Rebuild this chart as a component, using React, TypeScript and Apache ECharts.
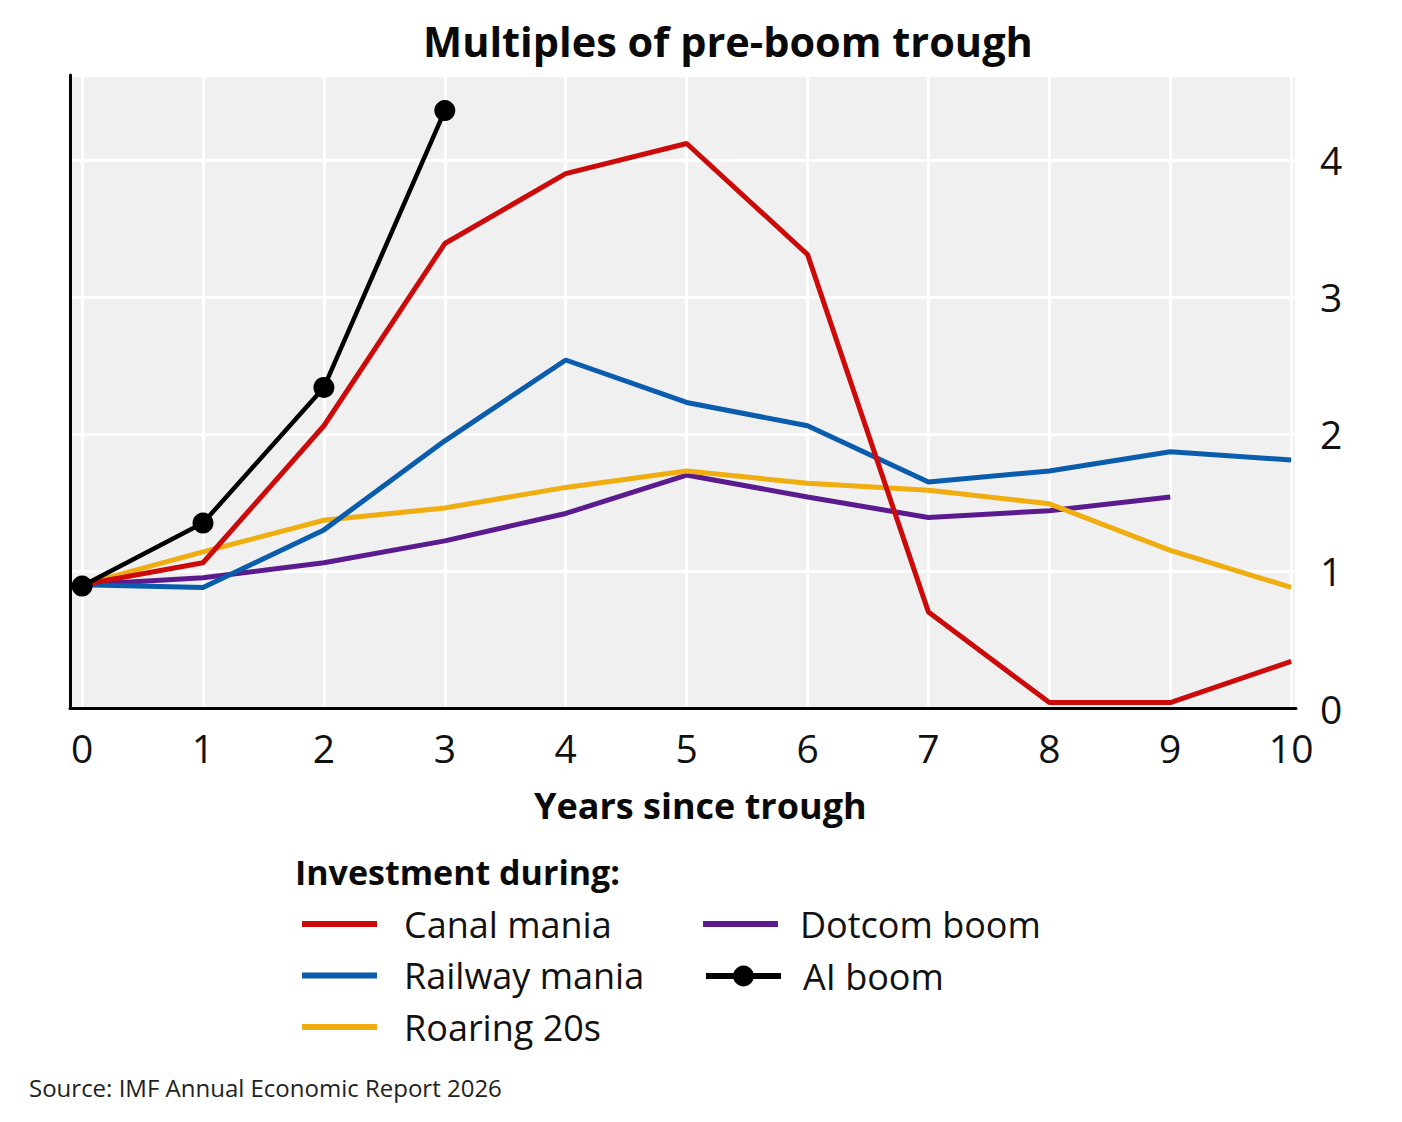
import React, { useEffect, useRef } from "react";
import * as echarts from "echarts";

const years = [0, 1, 2, 3, 4, 5, 6, 7, 8, 9, 10];
const canalMania = [0.9, 1.06, 2.06, 3.39, 3.9, 4.12, 3.31, 0.7, 0.04, 0.04, 0.34];
const railwayMania = [0.9, 0.88, 1.3, 1.95, 2.54, 2.23, 2.06, 1.65, 1.73, 1.87, 1.81];
const roaring20s = [0.9, 1.14, 1.37, 1.46, 1.61, 1.73, 1.64, 1.59, 1.49, 1.15, 0.88];
const dotcomBoom = [0.9, 0.95, 1.06, 1.22, 1.42, 1.7, 1.54, 1.39, 1.44, 1.54];
const aiYears = [0, 1, 2, 3];
const aiBoom = [0.89, 1.35, 2.34, 4.36];
const yTicks = [0, 1, 2, 3, 4];

const FONT = "'Open Sans', 'Noto Sans', sans-serif";

const pair = (xs: number[], ys: number[]) => ys.map((v, i) => [xs[i], v]);

export default function App() {
  const ref = useRef<HTMLDivElement>(null);
  useEffect(() => {
    document.body.style.margin = "0";
    if (!ref.current) return;
    const chart = echarts.init(ref.current, undefined, { renderer: "svg" });
    const lineSeries = (name: string, color: string, xs: number[], ys: number[], z: number) => ({
      name,
      type: "line",
      data: pair(xs, ys),
      symbol: "none",
      z,
      lineStyle: { color, width: 5 },
      itemStyle: { color },
    });
    const legendText = (pad: number) => ({
      fontSize: 36,
      fontFamily: FONT,
      color: "#111",
      lineHeight: 40,
      padding: [0, 0, 0, pad],
    });
    chart.setOption({
      animation: false,
      textStyle: { fontFamily: FONT },
      grid: {
        left: 70,
        right: 106,
        top: 75,
        bottom: 414,
        show: true,
        backgroundColor: "#f0f0f0",
        borderWidth: 0,
      },
      graphic: [
        {
          type: "text",
          x: 423,
          y: 41,
          style: {
            text: "Multiples of pre-boom trough",
            font: `bold 41.5px ${FONT}`,
            fill: "#0a0a0a",
            textAlign: "left",
            textVerticalAlign: "middle",
          },
        },
        {
          type: "text",
          x: 534,
          y: 805,
          style: {
            text: "Years since trough",
            font: `bold 36px ${FONT}`,
            fill: "#0a0a0a",
            textAlign: "left",
            textVerticalAlign: "middle",
          },
        },
        {
          type: "text",
          x: 295,
          y: 872,
          style: {
            text: "Investment during:",
            font: `bold 34px ${FONT}`,
            fill: "#0a0a0a",
            textAlign: "left",
            textVerticalAlign: "middle",
          },
        },
        {
          type: "text",
          x: 29,
          y: 1087,
          style: {
            text: "Source: IMF Annual Economic Report 2026",
            font: `24px ${FONT}`,
            fill: "#222222",
            textAlign: "left",
            textVerticalAlign: "middle",
          },
        },
      ],
      xAxis: {
        type: "value",
        min: -0.1,
        max: 10.04,
        minInterval: 1,
        maxInterval: 1,
        axisLine: { show: true, onZero: false, lineStyle: { color: "#000", width: 3 } },
        axisTick: { show: false },
        axisLabel: {
          fontSize: 39,
          color: "#111",
          margin: 20,
          showMinLabel: false,
          showMaxLabel: false,
          formatter: (v: number) => (years.includes(v) ? String(v) : ""),
        },
        splitLine: { show: true, lineStyle: { color: "#ffffff", width: 3 } },
      },
      yAxis: [
        {
          type: "value",
          position: "right",
          min: 0,
          max: 4.62,
          minInterval: 1,
          maxInterval: 1,
          axisLine: { show: false, onZero: false },
          axisTick: { show: false },
          axisLabel: {
            fontSize: 39,
            color: "#111",
            margin: 24,
            showMaxLabel: false,
            formatter: (v: number) => (yTicks.includes(v) ? String(v) : ""),
          },
          splitLine: { show: true, lineStyle: { color: "#ffffff", width: 3 } },
        },
        {
          type: "value",
          position: "left",
          min: 0,
          max: 4.62,
          axisLine: { show: true, onZero: false, lineStyle: { color: "#000", width: 3 } },
          axisTick: { show: false },
          axisLabel: { show: false },
          splitLine: { show: false },
        },
      ],
      legend: [
        {
          data: ["Canal mania", "Railway mania", "Roaring 20s"],
          orient: "vertical",
          left: 302,
          top: 904,
          padding: 0,
          itemGap: 11.5,
          itemWidth: 75,
          itemHeight: 6,
          icon: "rect",
          selectedMode: false,
          textStyle: legendText(22),
        },
        {
          data: ["Dotcom boom"],
          orient: "vertical",
          left: 703,
          top: 904,
          padding: 0,
          itemWidth: 75,
          itemHeight: 6,
          icon: "rect",
          selectedMode: false,
          textStyle: legendText(17),
        },
        {
          data: ["AI boom"],
          orient: "vertical",
          left: 703,
          top: 956,
          padding: 0,
          itemWidth: 75,
          itemHeight: 26,
          selectedMode: false,
          lineStyle: { width: 6 },
          textStyle: legendText(17),
        },
      ],
      series: [
        lineSeries("Dotcom boom", "#5b1b8e", years, dotcomBoom, 2),
        lineSeries("Roaring 20s", "#f0ad0f", years, roaring20s, 3),
        lineSeries("Railway mania", "#0a5cad", years, railwayMania, 4),
        lineSeries("Canal mania", "#cc0a0a", years, canalMania, 5),
        {
          name: "AI boom",
          type: "line",
          data: pair(aiYears, aiBoom),
          symbol: "circle",
          symbolSize: 21,
          showSymbol: true,
          z: 6,
          lineStyle: { color: "#000", width: 4.5 },
          itemStyle: { color: "#000" },
        },
      ],
    });
    return () => chart.dispose();
  }, []);
  return <div ref={ref} style={{ width: 1402, height: 1122 }} />;
}
